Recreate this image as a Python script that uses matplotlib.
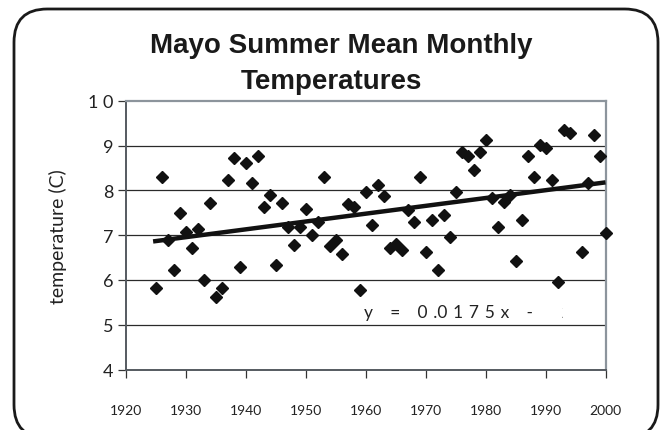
import matplotlib
matplotlib.use("Agg")
import matplotlib.pyplot as plt
import numpy as np
from matplotlib.patches import FancyBboxPatch
from matplotlib.transforms import Bbox, TransformedBbox

years = [1925, 1926, 1927, 1928, 1929, 1930, 1931, 1932, 1933, 1934,
         1935, 1936, 1937, 1938, 1939, 1940, 1941, 1942, 1943, 1944,
         1945, 1946, 1947, 1948, 1949, 1950, 1951, 1952, 1953, 1954,
         1955, 1956, 1957, 1958, 1959, 1960, 1961, 1962, 1963, 1964,
         1965, 1966, 1967, 1968, 1969, 1970, 1971, 1972, 1973, 1974,
         1975, 1976, 1977, 1978, 1979, 1980, 1981, 1982, 1983, 1984,
         1985, 1986, 1987, 1988, 1989, 1990, 1991, 1992, 1993, 1994,
         1996, 1997, 1998, 1999, 2000]
temps = [5.83, 8.29, 6.90, 6.23, 7.50, 7.07, 6.72, 7.14, 6.00, 7.73,
         5.61, 5.83, 8.24, 8.73, 6.28, 8.62, 8.17, 8.78, 7.62, 7.90,
         6.34, 7.73, 7.18, 6.79, 7.18, 7.58, 7.01, 7.29, 8.29, 6.75,
         6.90, 6.57, 7.70, 7.62, 5.78, 7.96, 7.23, 8.13, 7.88, 6.72,
         6.80, 6.67, 7.57, 7.29, 8.29, 6.62, 7.34, 6.22, 7.45, 6.96,
         7.96, 8.85, 8.78, 8.46, 8.85, 9.13, 7.84, 7.19, 7.74, 7.90,
         6.43, 7.34, 8.78, 8.29, 9.02, 8.94, 8.24, 5.96, 9.35, 9.28,
         6.62, 8.17, 9.24, 8.78, 7.05]

trend_slope = 0.0175
trend_intercept = -26.82
trend_span = [1924.6, 2000]

x_ticks = list(range(1920, 2001, 10))
x_labels = [str(y) for y in x_ticks]
y_ticks = [4, 5, 6, 7, 8, 9, 10]
y_labels = ["4", "5", "6", "7", "8", "9", "1 0"]

title_lines = ["Mayo Summer Mean Monthly", "Temperatures"]
sp = "\u2004"  # three-per-em space, gives the wide letter spacing of the label
equation = ("y" + sp * 3 + "=" + sp * 3 + "0" + sp + ".0" + sp + "1" + sp + "7"
            + sp + "5" + sp + "x" + sp * 3 + "-" + sp * 5 + "2" + sp + "6"
            + sp + "." + sp + "8")

W, H = 665, 431
fig = plt.figure(figsize=(W / 100, H / 100), dpi=100)
fig.patch.set_facecolor("white")

# rounded frame around the whole chart (bottom edge runs off the picture)
frame = FancyBboxPatch((14 / W, -8 / H), (658 - 14) / W, (439 - 10) / H,
                       boxstyle="round,pad=0,rounding_size=0.05",
                       mutation_aspect=W / H, transform=fig.transFigure,
                       facecolor="none", edgecolor="#1a1a1a", linewidth=2.0)
fig.patches.append(frame)

ax = fig.add_axes([125.5 / W, 1 - 370.5 / H, 480 / W, 268.6 / H])
ax.set_xlim(1920, 2000)
ax.set_ylim(4, 10)

ax.plot(years, temps, linestyle="none", marker="D", markersize=6.6,
        color="#111111", zorder=3, clip_on=False)
tx = np.array(trend_span)
ax.plot(tx, trend_slope * tx + trend_intercept, color="#111111",
        linewidth=3.2, solid_capstyle="butt", zorder=4)

for yv in [5, 6, 7, 8, 9]:
    ax.axhline(yv, color="#2a2a2a", linewidth=0.9, zorder=1)

ax.set_xticks(x_ticks)
ax.set_xticklabels(x_labels, fontfamily="Lato", fontsize=10, color="#222222")
ax.set_yticks(y_ticks)
ax.set_yticklabels(y_labels, fontfamily="Lato", fontsize=13, color="#222222")
ax.tick_params(axis="x", direction="out", length=6, width=0.9, pad=19, colors="#333333",
               labelcolor="#222222")
ax.tick_params(axis="y", direction="out", length=6, width=0.9, pad=3, colors="#333333",
               labelcolor="#222222")

for side in ("top", "right"):
    ax.spines[side].set_color("#8c949c")
    ax.spines[side].set_linewidth(1.6)
ax.spines["left"].set_color("#555a60")
ax.spines["left"].set_linewidth(1.4)
ax.spines["bottom"].set_color("#555a60")
ax.spines["bottom"].set_linewidth(1.4)

ax.set_ylabel("temperature (C)", fontfamily="Lato", fontsize=14, color="#222222",
              labelpad=15)

# trendline label, cut off the way the original text box cuts it
eq = ax.text(1959.8, 5.29, equation, fontfamily=["Lato", "DejaVu Sans"], fontsize=12.5,
             color="#222222", ha="left", va="center", zorder=5)
eq.set_clip_on(True)
eq.set_clip_box(TransformedBbox(Bbox([[1920, 4], [1992.9, 10]]), ax.transData))

fig.text(341 / W, 1 - 46 / H, title_lines[0], ha="center", va="center",
         fontfamily="Liberation Sans", fontweight="bold", fontsize=20, color="#1a1a1a")
fig.text(331 / W, 1 - 82 / H, title_lines[1], ha="center", va="center",
         fontfamily="Liberation Sans", fontweight="bold", fontsize=20, color="#1a1a1a")

fig.savefig("out.png", dpi=100)
